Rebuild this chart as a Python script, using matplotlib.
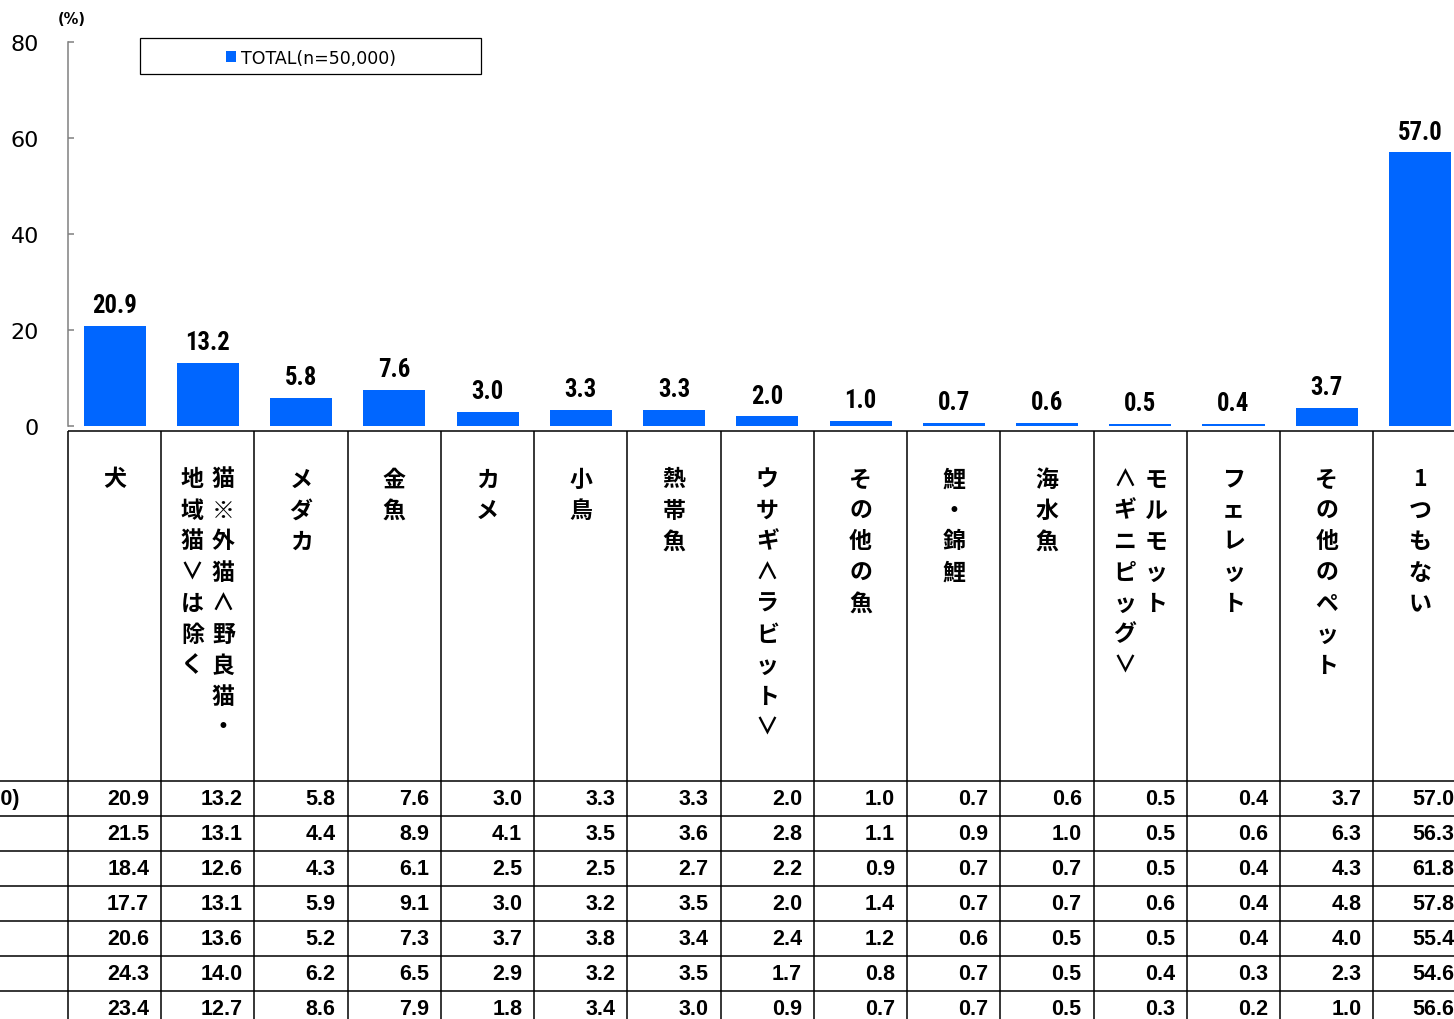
import matplotlib
matplotlib.use("Agg")
import matplotlib.pyplot as plt
from matplotlib import font_manager
from matplotlib.font_manager import FontProperties
from matplotlib.patches import Rectangle

# ---------------- data ----------------
categories = ["犬", "猫※外猫∧野良猫・\n地域猫∨は除く", "メダカ", "金魚", "カメ", "小鳥", "熱帯魚",
              "ウサギ∧ラビット∨", "その他の魚", "鯉・錦鯉", "海水魚", "モルモット\n∧ギニピッグ∨",
              "フェレット", "その他のペット", "1つもない"]
total_values = [20.9, 13.2, 5.8, 7.6, 3.0, 3.3, 3.3, 2.0, 1.0, 0.7, 0.6, 0.5, 0.4, 3.7, 57.0]
series_label = "TOTAL(n=50,000)"
row_labels = ["TOTAL(n=50,000)", "", "", "", "", "", ""]
table_rows = [
    [20.9, 13.2, 5.8, 7.6, 3.0, 3.3, 3.3, 2.0, 1.0, 0.7, 0.6, 0.5, 0.4, 3.7, 57.0],
    [21.5, 13.1, 4.4, 8.9, 4.1, 3.5, 3.6, 2.8, 1.1, 0.9, 1.0, 0.5, 0.6, 6.3, 56.3],
    [18.4, 12.6, 4.3, 6.1, 2.5, 2.5, 2.7, 2.2, 0.9, 0.7, 0.7, 0.5, 0.4, 4.3, 61.8],
    [17.7, 13.1, 5.9, 9.1, 3.0, 3.2, 3.5, 2.0, 1.4, 0.7, 0.7, 0.6, 0.4, 4.8, 57.8],
    [20.6, 13.6, 5.2, 7.3, 3.7, 3.8, 3.4, 2.4, 1.2, 0.6, 0.5, 0.5, 0.4, 4.0, 55.4],
    [24.3, 14.0, 6.2, 6.5, 2.9, 3.2, 3.5, 1.7, 0.8, 0.7, 0.5, 0.4, 0.3, 2.3, 54.6],
    [23.4, 12.7, 8.6, 7.9, 1.8, 3.4, 3.0, 0.9, 0.7, 0.7, 0.5, 0.3, 0.2, 1.0, 56.6],
]
y_ticks = [0, 20, 40, 60, 80]

# ---------------- fonts ----------------
names = {f.name for f in font_manager.fontManager.ttflist}
ARIAL = "Liberation Sans" if "Liberation Sans" in names else "DejaVu Sans"
CJK = ["Noto Sans CJK JP", "DejaVu Sans"]
plt.rcParams["font.family"] = ["DejaVu Sans"]


def _weight(w):
    if isinstance(w, (int, float)):
        return int(w)
    return font_manager.weight_dict.get(str(w).lower(), 400)


cands = []
for f in font_manager.fontManager.ttflist:
    nm = f.name.lower()
    st = str(f.stretch).lower()
    fn = str(f.fname).lower()
    is_narrow = ("narrow" in nm or "condensed" in nm or "condensed" in st
                 or "narrow" in st or "condensed" in fn or "narrow" in fn)
    if not is_narrow or "semi" in st or "semi" in fn or "extra" in fn or "ultra" in fn:
        continue
    if f.style != "normal" or "italic" in fn:
        continue
    if _weight(f.weight) < 650 or _weight(f.weight) > 760:
        continue
    rank = 0 if "liberation" in nm else 1 if "roboto" in nm else 2 if "open" in nm else 3
    cands.append((rank, f.fname))
cands.sort()
if cands:
    narrow_fp = FontProperties(fname=cands[0][1])
else:
    narrow_fp = FontProperties(family=ARIAL, weight="bold")

W, H = 1454, 1020
fig = plt.figure(figsize=(W / 100, H / 100), dpi=100)
fig.patch.set_facecolor("white")

# scale the value-label font so that "20.9" is about 45 px wide
probe_fp = narrow_fp.copy()
probe_fp.set_size(20)
probe = fig.text(0.5, 0.5, "20.9", fontproperties=probe_fp)
fig.canvas.draw()
pw = probe.get_window_extent().width
probe.remove()
value_size = 20 * 45.0 / pw
value_size = max(14, min(value_size, 23))
label_fp = narrow_fp.copy()
label_fp.set_size(value_size)

n = len(categories)
cell = 93.24
left_px = 68
zero_px = 427
top_px = 43

BLUE = "#0066FF"

# ---------------- bar axes ----------------
ax = fig.add_axes([left_px / W, 1 - zero_px / H, n * cell / W, (zero_px - top_px) / H])
xs = list(range(n))
bars = ax.bar(xs, total_values, width=0.665, color=BLUE, label=series_label)
ax.set_xlim(-0.5, n - 0.5)
ax.set_ylim(0, 80)
ax.set_yticks(y_ticks)
ax.set_xticks([])
for s in ["top", "right", "bottom"]:
    ax.spines[s].set_visible(False)
ax.spines["left"].set_color("#808080")
ax.spines["left"].set_linewidth(1.1)
ax.tick_params(axis="y", direction="in", length=4, width=1.1, color="#808080",
               labelsize=16, pad=21, labelcolor="black")
for lab in ax.get_yticklabels():
    lab.set_fontfamily("DejaVu Sans")

for x, v in zip(xs, total_values):
    ax.annotate(f"{v:.1f}", (x, v), xytext=(0, 10), textcoords="offset points",
                ha="center", va="baseline", fontproperties=label_fp, color="black")

# (%) label
fig.text(72 / W, 1 - 20 / H, "(%)", ha="center", va="center", fontsize=10.5,
         fontweight="bold")

# legend
fig.patches.append(Rectangle((140 / W, 1 - 75 / H), (481 - 140) / W, 36 / H,
                             transform=fig.transFigure, facecolor="white",
                             edgecolor="black", linewidth=0.9))
fig.legend(handles=[bars], labels=[series_label], loc="center",
           bbox_to_anchor=(311 / W, 1 - 58.5 / H), frameon=False, fontsize=12.5,
           handlelength=0.6, handleheight=0.6, handletextpad=0.3)

# ---------------- table axes ----------------
table_top = 432
tab_bottom = H
tax = fig.add_axes([left_px / W, 0, n * cell / W, (H - table_top) / H])
tax.set_xlim(-0.5, n - 0.5)
tax.set_ylim(tab_bottom, table_top)
tax.axis("off")

x_fig_left = -0.5 - left_px / cell
x_far_right = n + 1
lw = 1.1
tax.vlines([i - 0.5 for i in range(n + 1)], table_top, tab_bottom, colors="black",
           linewidth=lw, clip_on=False)
tax.hlines(table_top, -0.5, x_far_right, colors="black", linewidth=lw, clip_on=False)
row_top = 782
row_h = 35
edges = [row_top + r * row_h for r in range(len(table_rows) + 1)]
tax.hlines(edges, x_fig_left, x_far_right, colors="black", linewidth=lw, clip_on=False)

# category labels (vertical writing, columns right to left)
char_y0 = 480
char_step = 31
col_step = 31
for i, lab in enumerate(categories):
    cols = lab.split("\n")
    k = len(cols)
    for c, text in enumerate(cols):
        offset_px = ((k - 1) / 2 - c) * col_step
        cx = i + offset_px / cell
        for j, ch in enumerate(text):
            tax.text(cx, char_y0 + j * char_step, ch, ha="center", va="center",
                     fontsize=16.5, fontweight="bold", family=CJK, clip_on=False)

# table values
pad = 12 / cell
for r, row in enumerate(table_rows):
    yc = row_top + r * row_h + row_h / 2
    for i, v in enumerate(row):
        tax.text(i + 0.5 - pad, yc, f"{v:.1f}", ha="right", va="center",
                 fontsize=15.5, fontweight="bold", family=ARIAL, clip_on=False)
    if row_labels[r]:
        tax.text(-0.5 - 48 / cell, yc, row_labels[r], ha="right", va="center",
                 fontsize=15.5, fontweight="bold", family=ARIAL, clip_on=False)

fig.savefig("out.png", dpi=100, facecolor="white")
